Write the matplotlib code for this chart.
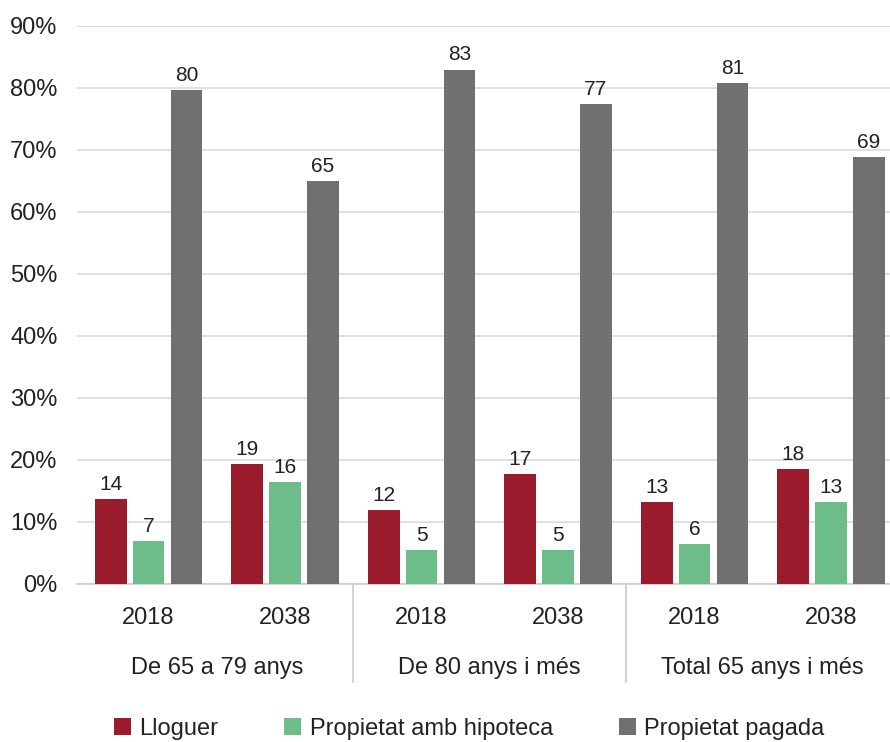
import numpy as np
import matplotlib
matplotlib.use("Agg")
import matplotlib.pyplot as plt
from matplotlib.patches import Patch
from matplotlib.transforms import blended_transform_factory

plt.rcParams["font.family"] = ["Liberation Sans", "DejaVu Sans"]

# Dades
grups = ["De 65 a 79 anys", "De 80 anys i més", "Total 65 anys i més"]
anys = ["2018", "2038", "2018", "2038", "2018", "2038"]
series = ["Lloguer", "Propietat amb hipoteca", "Propietat pagada"]
lloguer = [13.6, 19.3, 11.9, 17.6, 13.2, 18.4]
hipoteca = [6.9, 16.3, 5.4, 5.4, 6.3, 13.2]
pagada = [79.6, 64.9, 82.9, 77.4, 80.8, 68.8]
etiq_lloguer = [14, 19, 12, 17, 13, 18]
etiq_hipoteca = [7, 16, 5, 5, 6, 13]
etiq_pagada = [80, 65, 83, 77, 81, 69]

colors = ["#9a1b2b", "#6dbd8a", "#707072"]
text_col = "#222222"
FS = 17

W, H = 890, 742
y0, y90 = 583.5, 25.5
fig = plt.figure(figsize=(W / 100, H / 100), dpi=100)
ax = fig.add_axes([77 / W, 1 - y0 / H, (897 - 77) / W, (y0 - y90) / H])

x = np.arange(len(anys))
step, width = 0.278, 0.234
for i, (vals, labs) in enumerate([(lloguer, etiq_lloguer),
                                  (hipoteca, etiq_hipoteca),
                                  (pagada, etiq_pagada)]):
    pos = x + (i - 1) * step
    ax.bar(pos, vals, width=width, color=colors[i], zorder=3)
    for p, v, l in zip(pos, vals, labs):
        ax.annotate(str(l), (p, v), xytext=(0, 6.5), textcoords="offset points",
                    ha="center", va="baseline", fontsize=15, color=text_col)

ax.set_xlim(-0.524, -0.524 + 820 / 136.5)
ax.set_ylim(0, 90)
ax.set_yticks(np.arange(0, 91, 10))
ax.set_yticklabels([f"{v}%" for v in range(0, 91, 10)], fontsize=FS, color=text_col)
ax.set_xticks(x)
ax.set_xticklabels(anys, fontsize=FS, color=text_col)
ax.tick_params(axis="both", length=0)
ax.tick_params(axis="x", pad=17)
ax.tick_params(axis="y", pad=14)
ax.grid(axis="y", color="#d8dcdf", linewidth=1.2, zorder=0)
for s in ["left", "right", "top"]:
    ax.spines[s].set_visible(False)
ax.spines["bottom"].set_color("#c8ccd0")
ax.spines["bottom"].set_linewidth(1.2)

# Etiquetes de grup i separadors
tr = blended_transform_factory(ax.transData, ax.transAxes)
hpx = y0 - y90
for g, nom in enumerate(grups):
    ax.text(2 * g + 0.5, -(668 - y0) / hpx, nom, transform=tr,
            ha="center", va="center", fontsize=FS, color=text_col)
for g in [1.5, 3.5]:
    ax.plot([g, g], [0, -(682 - y0) / hpx], transform=tr, color="#c8ccd0",
            linewidth=1.2, clip_on=False)

handles = [Patch(facecolor=c, label=s) for c, s in zip(colors, series)]
leg = fig.legend(handles=handles, loc="center left",
                 bbox_to_anchor=(114 / W, 1 - 729 / H), ncol=3, frameon=False,
                 fontsize=FS, handlelength=0.72, handleheight=0.72,
                 handletextpad=0.35, columnspacing=2.8, borderpad=0,
                 borderaxespad=0)
for t in leg.get_texts():
    t.set_color(text_col)

fig.savefig("out.png", dpi=100)
